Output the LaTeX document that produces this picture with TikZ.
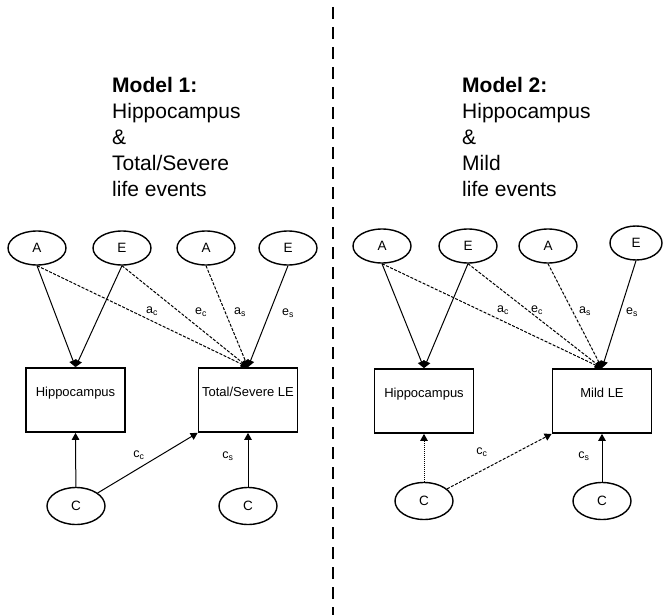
\documentclass[tikz,border=0pt]{standalone}
\usepackage{fontspec}
\setmainfont{Liberation Sans}
\usetikzlibrary{arrows.meta,shapes.geometric}

\begin{document}
\begin{tikzpicture}[x=1pt,y=-1pt,
    latent/.style={ellipse,draw,line width=1.4pt,minimum width=58pt,minimum height=34pt,inner sep=0pt,font=\fontsize{13.5}{15}\selectfont},
    observed/.style={rectangle,draw,line width=1.7pt,minimum width=99pt,inner sep=0pt,text height=28pt,text depth=36pt,font=\fontsize{13}{15}\selectfont},
    effect/.style={line width=1pt,-{Triangle[length=7pt,width=7.5pt]}},
    shared/.style={effect,dash pattern=on 3pt off 1.5pt},
    coef/.style={inner sep=0pt,font=\fontsize{12.5}{14}\selectfont},
    heading/.style={anchor=north west,align=left,inner sep=0pt,font=\fontsize{21}{26}\selectfont}]
    \useasboundingbox (0,0) rectangle (664,615);

    \draw[line width=2.5pt,dash pattern=on 12pt off 8pt] (333,7) -- (333,615);

    \node[heading] (title1) at (112,77) {\textbf{Model 1:}\\Hippocampus\\\&\\Total/Severe\\life events};
    \node[heading] (title2) at (462,77) {\textbf{Model 2:}\\Hippocampus\\\&\\Mild\\life events};

    \node[latent] (A1) at (37,248) {A};
    \node[latent] (E1) at (122,248) {E};
    \node[latent] (A2) at (206,248) {A};
    \node[latent] (E2) at (288,248) {E};
    \node[observed] (Hip1) at (75.5,400) {Hippocampus};
    \node[observed] (LE1) at (248,400) {Total/Severe LE};
    \node[latent,minimum height=37pt] (C1) at (76,506) {C};
    \node[latent,minimum height=37pt] (C2) at (248,506) {C};

    \node[latent] (A3) at (382,246) {A};
    \node[latent] (E3) at (468,246) {E};
    \node[latent] (A4) at (548,246) {A};
    \node[latent,minimum width=52pt] (E4) at (636,243) {E};
    \node[observed] (Hip2) at (424,401) {Hippocampus};
    \node[observed] (LE2) at (602,401) {Mild LE};
    \node[latent,minimum height=37pt] (C3) at (424,501) {C};
    \node[latent,minimum height=37pt] (C4) at (602,501) {C};

    \draw[effect] (A1.south) -- (Hip1.north);
    \draw[effect] (E1.south) -- (Hip1.north);
    \draw[shared] (A1.south) -- (LE1.north);
    \draw[shared] (E1.south) -- (LE1.north);
    \draw[shared] (A2.south) -- (LE1.north);
    \draw[effect] (E2.south) -- (LE1.north);
    \draw[effect] (C1) -- (Hip1.south);
    \draw[effect] (C1) -- (LE1.south west);
    \draw[effect] (C2) -- (LE1.south);

    \draw[effect] (A3.south) -- (Hip2.north);
    \draw[effect] (E3.south) -- (Hip2.north);
    \draw[shared] (A3.south) -- (LE2.north);
    \draw[shared] (E3.south) -- (LE2.north);
    \draw[shared] (A4.south) -- (LE2.north);
    \draw[effect] (E4.south) -- (LE2.north);
    \draw[effect,densely dotted] (C3) -- (Hip2.south);
    \draw[shared] (C3) -- (LE2.south west);
    \draw[effect] (C4) -- (LE2.south);

    \node[coef] (ac1) at (152,311) {a\textsubscript{c}};
    \node[coef] (ec1) at (201,312) {e\textsubscript{c}};
    \node[coef] (as1) at (240,312) {a\textsubscript{s}};
    \node[coef] (es1) at (288,313) {e\textsubscript{s}};
    \node[coef] (cc1) at (139,455) {c\textsubscript{c}};
    \node[coef] (cs1) at (228,456) {c\textsubscript{s}};

    \node[coef] (ac2) at (503,310) {a\textsubscript{c}};
    \node[coef] (ec2) at (537,310) {e\textsubscript{c}};
    \node[coef] (as2) at (585,311) {a\textsubscript{s}};
    \node[coef] (es2) at (632,312) {e\textsubscript{s}};
    \node[coef] (cc2) at (482,452) {c\textsubscript{c}};
    \node[coef] (cs2) at (584,456) {c\textsubscript{s}};
\end{tikzpicture}
\end{document}
